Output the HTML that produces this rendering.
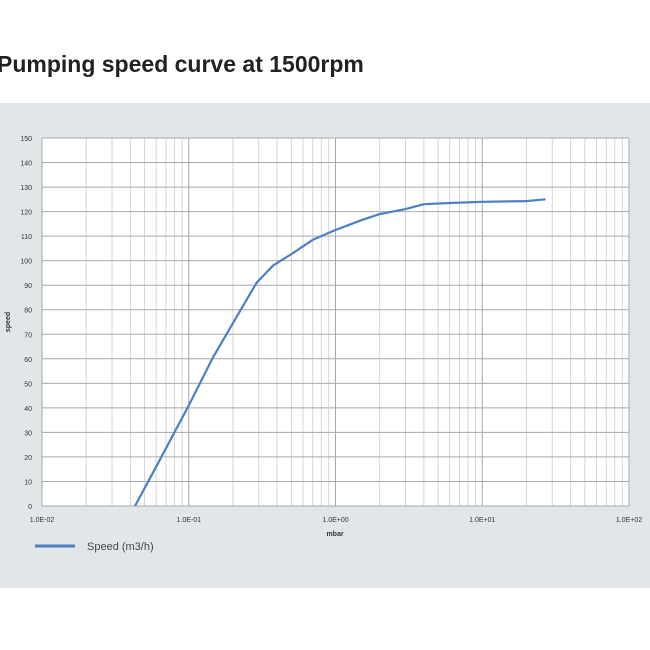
<!DOCTYPE html>
<html><head><meta charset="utf-8"><style>
body{margin:0;width:650px;height:650px;background:#fff;overflow:hidden;font-family:"Liberation Sans",sans-serif}
#title{position:absolute;left:-3px;top:51px;font-size:23px;font-weight:bold;color:#222;white-space:nowrap}
#panel{position:absolute;left:0;top:103px;width:650px;height:485px;background:#e3e6e9}
svg{position:absolute;left:0;top:0}
</style></head><body>
<div id="title">Pumping speed curve at 1500rpm</div>
<div id="panel"></div>
<svg id="chart" width="650" height="650"></svg>
<script>
const pressures=[0.043,0.06,0.1,0.146,0.2,0.29,0.375,0.51,0.7,1,1.5,2,3,4,6,10,20,27];
const speeds=[0,16,41,60.5,74.5,91,98,103,108.5,112.5,116.5,119,121,123,123.5,124,124.3,125];
const xTickLabels=["1.0E-02","1.0E-01","1.0E+00","1.0E+01","1.0E+02"];
const yTicks=[0,10,20,30,40,50,60,70,80,90,100,110,120,130,140,150];
const X0=42,X1=629,Y0=506,Y1=138;
const xs=p=>X0+(Math.log10(p)+2)/4*(X1-X0);
const ys=v=>Y0-v/150*(Y0-Y1);
const svg=document.getElementById('chart');const NS='http://www.w3.org/2000/svg';
function mk(t,a,p){const e=document.createElementNS(NS,t);for(const k in a)e.setAttribute(k,a[k]);(p||svg).appendChild(e);return e;}
const bg=mk('rect',{x:X0,y:Y1,width:X1-X0,height:Y0-Y1,fill:'#fff'});


for(let d=-2;d<2;d++)for(let m=2;m<10;m++){const x=xs(m*Math.pow(10,d));const l=mk('line',{x1:x,x2:x,y1:Y1,y2:Y0,stroke:'#d4d4d4','stroke-width':1});

}
yTicks.forEach(v=>{const y=ys(v);const l=mk('line',{x1:X0,x2:X1,y1:y,y2:y,stroke:'#a8a8a8','stroke-width':1});


const t=mk('text',{x:X0-10,y:y+3,'font-size':7,'text-anchor':'end',fill:'#333'});t.textContent=v;

});
xTickLabels.forEach((s,i)=>{const x=xs(Math.pow(10,i-2));const l=mk('line',{x1:x,x2:x,y1:Y1,y2:Y0,stroke:'#a8a8a8','stroke-width':1});


const t=mk('text',{x:x,y:Y0+16,'font-size':7,'text-anchor':'middle',fill:'#333'});t.textContent=s;

});
const xt=mk('text',{x:335,y:536,'font-size':7,'font-weight':'bold','text-anchor':'middle',fill:'#333'});xt.textContent='mbar';


const yt=mk('text',{x:10,y:322,'font-size':7,'font-weight':'bold','text-anchor':'middle',fill:'#333',transform:'rotate(-90 10 322)'});yt.textContent='speed';


const path=mk('path',{d:pressures.map((p,i)=>(i?'L':'M')+xs(p).toFixed(1)+' '+ys(speeds[i]).toFixed(1)).join(''),fill:'none',stroke:'#4a80c4','stroke-width':2.2,'stroke-linejoin':'round'});


const ll=mk('line',{x1:35,x2:75,y1:546,y2:546,stroke:'#4a80c4','stroke-width':3});


const lt=mk('text',{x:87,y:550,'font-size':11,fill:'#444'});lt.textContent='Speed (m3/h)';


</script>
</body></html>
